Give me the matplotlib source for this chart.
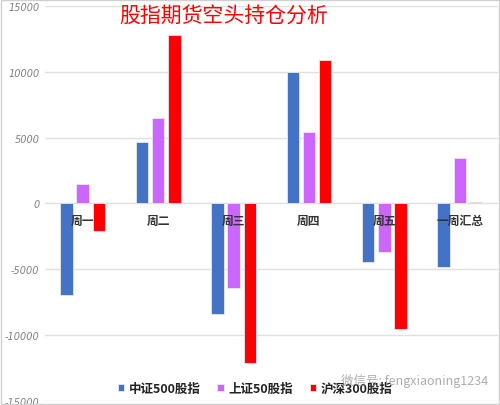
import matplotlib
matplotlib.use("Agg")
import matplotlib.pyplot as plt
import matplotlib.transforms as mtransforms
import numpy as np
from matplotlib.patches import Rectangle

plt.rcParams['font.family'] = ['Noto Sans CJK SC', 'DejaVu Sans']

categories = ["周一", "周二", "周三", "周四", "周五", "一周汇总"]
series_names = ["中证500股指", "上证50股指", "沪深300股指"]
zz500 = [-6950, 4700, -8400, 10000, -4420, -4850]
sz50 = [1450, 6500, -6400, 5400, -3700, 3450]
hs300 = [-2100, 12800, -12150, 10900, -9550, 100]
colors = ["#4472C4", "#CC66FF", "#FF0000"]
yticks = [-15000, -10000, -5000, 0, 5000, 10000, 15000]
title = "股指期货空头持仓分析"
watermark = "微信号: fengxiaoning1234"

fig = plt.figure(figsize=(5.0, 4.06), dpi=100)
ax = fig.add_axes([0.09, 0.0099, 0.905, 0.973])

x = np.arange(len(categories))
w = 0.165
off = 0.215
for k, (vals, c, name) in enumerate(zip([zz500, sz50, hs300], colors, series_names)):
    ax.bar(x + (k - 1) * off, vals, width=w, color=c, edgecolor='#e8e8f0',
           linewidth=0.6, label=name, zorder=3)

ax.set_xlim(-0.5, len(categories) - 0.5)
ax.set_ylim(-15000, 15000)
ax.set_yticks(yticks)
ax.set_yticklabels([str(v) for v in yticks], fontsize=7, color='#808080',
                   style='italic', family=['DejaVu Sans'])
shift = mtransforms.ScaledTranslation(0, 3 / 100, fig.dpi_scale_trans)
for lab in ax.get_yticklabels():
    lab.set_transform(lab.get_transform() + shift)
ax.tick_params(axis='y', length=0, pad=4)
ax.set_xticks([])
ax.grid(axis='y', color='#e0e0e0', linewidth=1.0, zorder=0)
for s in ax.spines.values():
    s.set_visible(False)

for i, c in enumerate(categories):
    ax.text(i, -800, c, ha='center', va='top', fontsize=8.5, color='#333333',
            fontweight='bold', zorder=5)

fig.text(0.447, 0.958, title, ha='center', va='center', fontsize=15,
         color='#FF0000')

leg = ax.legend(loc='lower left', bbox_to_anchor=(0.145, -0.004), ncol=3,
                frameon=False, fontsize=9, handlelength=0.5, handleheight=0.5,
                handletextpad=0.4, columnspacing=1.3, borderaxespad=0.2)
for t in leg.get_texts():
    t.set_color('#222222')
    t.set_fontweight('bold')

fig.text(0.83, 0.062, watermark, ha='center', va='center', fontsize=9,
         color='#999999', alpha=0.8, zorder=10)

fig.patches.append(Rectangle((0.002, 0.002), 0.996, 0.996, transform=fig.transFigure,
                             fill=False, edgecolor='#d0d0d0', linewidth=1.0))

fig.savefig("out.png", dpi=100)
